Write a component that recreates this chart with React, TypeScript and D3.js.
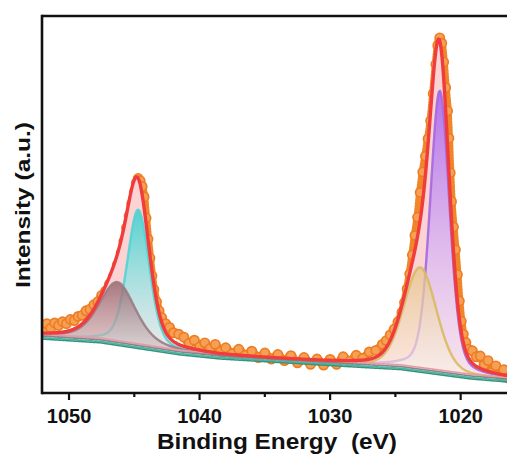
import React from "react";
import * as d3 from "d3";

const energy = [
  1052.0, 1051.7, 1051.4, 1051.1, 1050.8, 1050.5, 1050.2, 1049.9, 1049.6, 1049.3,
  1049.0, 1048.7, 1048.4, 1048.1, 1047.8, 1047.5, 1047.2, 1046.9, 1046.6, 1046.3,
  1046.0, 1045.8, 1045.6, 1045.4, 1045.2, 1045.0, 1044.85, 1044.7, 1044.55, 1044.4,
  1044.25, 1044.1, 1043.95, 1043.8, 1043.65, 1043.5, 1043.3, 1043.1, 1042.9, 1042.6,
  1042.3, 1042.0, 1041.6, 1041.2, 1040.8, 1040.4, 1040.0, 1039.6, 1039.2, 1038.8,
  1038.4, 1038.0, 1037.5, 1037.0, 1036.5, 1036.0, 1035.5, 1035.0, 1034.5, 1034.0,
  1033.5, 1033.0, 1032.5, 1032.0, 1031.5, 1031.0, 1030.5, 1030.0, 1029.5, 1029.0,
  1028.5, 1028.0, 1027.5, 1027.0, 1026.5, 1026.0, 1025.7, 1025.4, 1025.1, 1024.8,
  1024.5, 1024.3, 1024.1, 1023.9, 1023.7, 1023.5, 1023.3, 1023.1, 1022.9, 1022.7,
  1022.5, 1022.3, 1022.1, 1021.9, 1021.75, 1021.6, 1021.45, 1021.3, 1021.15, 1021.0,
  1020.9, 1020.8, 1020.7, 1020.55, 1020.4, 1020.25, 1020.1, 1019.95, 1019.8, 1019.6,
  1019.4, 1019.1, 1018.8, 1018.5, 1018.2, 1017.9, 1017.6, 1017.3, 1017.0, 1016.7,
  1016.4,
];
const counts = [
  17.0, 18.4, 17.2, 18.6, 17.9, 18.9, 18.4, 19.5, 19.2, 20.3,
  20.6, 21.8, 22.2, 23.4, 24.2, 25.9, 27.0, 28.9, 30.9, 34.0,
  37.2, 40.2, 43.8, 47.0, 50.2, 53.2, 55.7, 56.9, 56.3, 54.8,
  52.0, 46.4, 40.8, 35.8, 31.1, 27.4, 24.2, 21.8, 20.0, 18.4,
  17.4, 16.0, 15.6, 14.8, 13.2, 14.0, 12.2, 13.3, 11.8, 12.9,
  11.0, 12.0, 10.4, 11.6, 10.0, 11.1, 9.4, 10.6, 9.0, 10.2,
  8.6, 9.9, 8.0, 9.4, 7.6, 9.0, 7.4, 8.9, 7.6, 9.6,
  8.4, 10.0, 9.2, 10.9, 11.3, 12.9, 13.9, 15.4, 16.9, 18.9,
  21.4, 24.0, 27.6, 31.6, 36.6, 41.8, 46.6, 53.2, 58.6, 62.8,
  67.4, 72.2, 79.4, 87.2, 92.2, 94.2, 92.8, 87.8, 81.0, 74.8,
  67.6, 58.4, 50.8, 44.0, 38.0, 31.4, 24.4, 19.0, 15.6, 13.4,
  11.6, 11.2, 9.6, 9.8, 7.4, 8.6, 5.6, 7.2, 4.6, 6.2,
  4.0,
];

// background knots (Shirley-like)
const bgEnergy = [1052.07, 1047.6, 1041.5, 1038.4, 1027.7, 1024.6, 1019.2, 1016.4];
const bgLevel = [15.1, 14.1, 10.9, 9.8, 7.6, 7.0, 4.5, 3.7];

// fitted components, in drawing order
const peakCenter = [1044.7, 1046.3, 1021.6, 1023.1];
const peakHeight = [36, 16, 74.5, 27];
const peakFwhm = [2.0, 3.3, 1.75, 2.95];
const peakMix = [0.3, 0.45, 0.3, 0.2];
const peakLine = ["#52D4D4", "#9A7C84", "#A468E0", "#D8BA62"];
const peakTop = ["#4CD0D0", "#95606A", "#B06CEA", "#E6C488"];
const peakBottom = ["#E4F8F8", "#DCD2D4", "#F6EEFC", "#FBF4EC"];
const peakTopOpacity = [0.95, 0.8, 0.95, 0.75];

const xTicks = [1050, 1040, 1030, 1020];
const xMinorTicks = [1045, 1035, 1025];

const font = "'Liberation Sans', Arial, Helvetica, sans-serif";

export default function App() {
  const left = 42, right = 507, top = 16, bottom = 393;
  const x = d3.scaleLinear().domain([1052.07, 1016.45]).range([left, right]);
  const y = d3.scaleLinear().domain([0, 100]).range([bottom, top]);
  const bg = d3.scaleLinear().domain(bgEnergy).range(bgLevel);

  const pv = (e: number, i: number) => {
    const d = (e - peakCenter[i]) / (peakFwhm[i] / 2);
    const g = Math.exp(-Math.LN2 * d * d);
    const l = 1 / (1 + d * d);
    return peakHeight[i] * (peakMix[i] * l + (1 - peakMix[i]) * g);
  };
  const env = (e: number) => bg(e) + d3.sum(peakCenter, (_, i) => pv(e, i));

  const grid = d3.range(1052.07, 1016.4, -0.04);

  const envArea = d3.area<number>().x((e) => x(e)).y0((e) => y(bg(e))).y1((e) => y(env(e)))(grid);
  const envLine = d3.line<number>().x((e) => x(e)).y((e) => y(env(e)))(grid);
  const bgLine = d3.line<number>().x((e) => x(e)).y((e) => y(bg(e)))(grid);

  const dataPts = energy.map((e, i) => [x(e), y(counts[i])] as [number, number]);
  const dataPath = d3.line().curve(d3.curveMonotoneX)(dataPts);

  return (
    <svg width={507} height={454} style={{ position: "absolute", left: 0, top: 0, background: "#fff" }}>
      <defs>
        {peakCenter.map((_, i) => (
          <linearGradient key={i} id={`grad${i}`} x1="0" y1="0" x2="0" y2="1">
            <stop offset="0" stopColor={peakTop[i]} stopOpacity={peakTopOpacity[i]} />
            <stop offset="1" stopColor={peakBottom[i]} stopOpacity={0.6} />
          </linearGradient>
        ))}
        <clipPath id="plot">
          <rect x={left} y={top} width={right - left} height={bottom - top} />
        </clipPath>
      </defs>

      <g clipPath="url(#plot)">
        {/* measured data */}
        <path d={dataPath ?? ""} fill="none" stroke="#F0862A" strokeWidth={8.5}
          strokeDasharray="0 3" strokeLinecap="round" />
        {dataPts.map((p, i) => (
          <circle key={i} cx={p[0]} cy={p[1]} r={4.6} fill="#F5A055" stroke="#EE7D22" strokeWidth={1.7} />
        ))}

        {/* envelope fill */}
        <path d={envArea ?? ""} fill="#FBD3D3" />

        {/* components */}
        {peakCenter.map((_, i) => {
          const pts = grid.filter((e) => pv(e, i) > 0.12);
          const a = d3.area<number>().x((e) => x(e)).y0((e) => y(bg(e))).y1((e) => y(bg(e) + pv(e, i)))(pts);
          const l = d3.line<number>().x((e) => x(e)).y((e) => y(bg(e) + pv(e, i)))(pts);
          return (
            <g key={i}>
              <path d={a ?? ""} fill={`url(#grad${i})`} />
              <path d={l ?? ""} fill="none" stroke={peakLine[i]} strokeWidth={2.4} strokeOpacity={0.9} />
            </g>
          );
        })}

        {/* background lines */}
        <path d={bgLine ?? ""} fill="none" stroke="#E79AA6" strokeWidth={1.6} transform="translate(0,-1.8)" />
        <path d={bgLine ?? ""} fill="none" stroke="#8E8486" strokeWidth={1.6} />
        <path d={bgLine ?? ""} fill="none" stroke="#45B7AE" strokeWidth={1.7} transform="translate(0,1.6)" />
        <path d={bgLine ?? ""} fill="none" stroke="#3A9478" strokeWidth={1.5} transform="translate(0,3)" />

        {/* envelope */}
        <path d={envLine ?? ""} fill="none" stroke="#F03C3C" strokeWidth={3.4} strokeLinejoin="round" />
      </g>

      {/* frame */}
      <line x1={left} x2={right} y1={top} y2={top} stroke="#111" strokeWidth={2.6} />
      <line x1={left} x2={left} y1={top - 1.3} y2={bottom + 1.3} stroke="#111" strokeWidth={2.6} />
      <line x1={left} x2={right} y1={bottom} y2={bottom} stroke="#111" strokeWidth={2.6} />

      {xTicks.map((t) => (
        <g key={t}>
          <line x1={x(t)} x2={x(t)} y1={bottom} y2={bottom + 7} stroke="#111" strokeWidth={2.2} />
          <text x={x(t)} y={423} textAnchor="middle" fontFamily={font} fontWeight="bold" fontSize={20} fill="#111">
            {t}
          </text>
        </g>
      ))}
      {xMinorTicks.map((t) => (
        <line key={t} x1={x(t)} x2={x(t)} y1={bottom} y2={bottom + 4} stroke="#111" strokeWidth={2.2} />
      ))}

      <text x={157} y={449} fontFamily={font} fontWeight="bold" fontSize={22} fill="#111"
        textLength={240} lengthAdjust="spacingAndGlyphs" style={{ whiteSpace: "pre" }}>
        {"Binding Energy  (eV)"}
      </text>
      <text transform="translate(30,288) rotate(-90)" fontFamily={font} fontWeight="bold" fontSize={21} fill="#111"
        textLength={166} lengthAdjust="spacingAndGlyphs">
        Intensity (a.u.)
      </text>
    </svg>
  );
}
